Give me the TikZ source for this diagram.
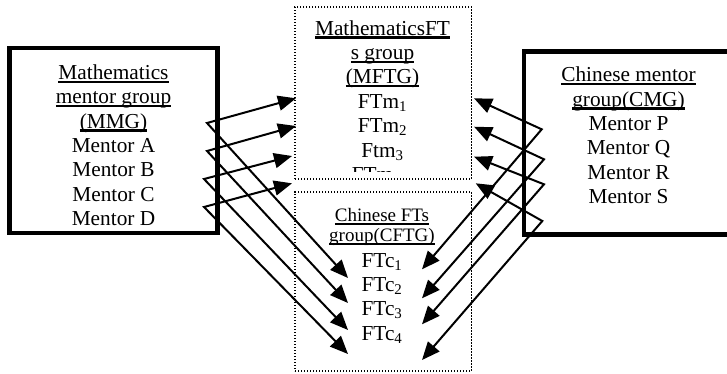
\documentclass[tikz,border=0pt]{standalone}
\usepackage{fontspec}
\setmainfont{Liberation Serif}
\usetikzlibrary{arrows.meta}
\usetikzlibrary{positioning}

\newcommand\grpline[1]{\setbox0\hbox{#1}\rlap{\rule[-3.6pt]{\wd0}{2.3pt}}\box0}

\begin{document}
\begin{tikzpicture}[
          x=1pt, y=-1pt,
          node distance=24.4pt,
          on grid,
          mentorbox/.style={
            draw,
            line width=4.5pt},
          ftbox/.style={
            draw,
            line width=1.2pt,
            dash pattern=on 1.2pt off 1.8pt},
          txt/.style={
            inner sep=0pt,
            text height=15pt,
            text depth=5pt,
            font=\fontsize{21.3}{25}\selectfont},
          smalltxt/.style={
            txt,
            font=\fontsize{19}{22}\selectfont},
          link/.style={
            line width=2pt,
            {Triangle[length=18pt,width=15pt]}-{Triangle[length=18pt,width=15pt]}},
        ]
          \useasboundingbox (0,0) rectangle (727,373);
          \clip (0,0) rectangle (727,373);

          % group boxes
          \node[mentorbox, minimum width=208pt, minimum height=185pt] (MMG) at (113.5,140.5) {};
          \node[mentorbox, minimum width=209pt, minimum height=183.4pt] (CMG) at (628.5,143) {};
          \node[ftbox, minimum width=176.5pt, minimum height=172pt] (MFTG) at (383.25,93) {};
          \node[ftbox, minimum width=176.5pt, minimum height=179pt] (CFTG) at (383.25,281.5) {};

          % mathematics mentors
          \node[txt] (mmg1) at (113.5,74.3) {\grpline{Mathematics}};
          \node[txt] (mmg2) [below=of mmg1] {\grpline{mentor group}};
          \node[txt] (mmg3) [below=of mmg2] {\grpline{(MMG)}};
          \node[txt] (mA) [below=of mmg3] {Mentor A};
          \node[txt] (mB) [below=of mA] {Mentor B};
          \node[txt] (mC) [below=of mB] {Mentor C};
          \node[txt] (mD) [below=of mC] {Mentor D};

          % chinese mentors
          \node[txt] (cmg1) at (628.5,76.7) {\grpline{Chinese mentor}};
          \node[txt] (cmg2) [below=of cmg1] {\grpline{group(CMG)}};
          \node[txt] (mP) [below=of cmg2] {Mentor P};
          \node[txt] (mQ) [below=of mP] {Mentor Q};
          \node[txt] (mR) [below=of mQ] {Mentor R};
          \node[txt] (mS) [below=of mR] {Mentor S};

          % mathematics FTs
          \node[txt] (mftg1) at (382.5,30) {\grpline{MathematicsFT}};
          \node[txt] (mftg2) [below=of mftg1] {\grpline{s group}};
          \node[txt] (mftg3) [below=of mftg2] {\grpline{(MFTG)}};
          \node[txt] (m1) [below=of mftg3] {FTm\textsubscript{1}};
          \node[txt] (m2) [below=of m1] {FTm\textsubscript{2}};
          \node[txt] (m3) [below=of m2] {Ftm\textsubscript{3}};
          \begin{scope}
            \clip (295,7) rectangle (471.5,171);
            \node[txt, xshift=-6pt] (m4) [below=of m3] {FTm\textsubscript{4}};
          \end{scope}

          % chinese FTs
          \node[smalltxt] (cftg1) at (382,216.7) {\grpline{Chinese FTs}};
          \node[smalltxt] (cftg2) [below=20pt of cftg1] {\grpline{group(CFTG)}};
          \node[txt] (c1) [below=25.3pt of cftg2] {FTc\textsubscript{1}};
          \node[txt] (c2) [below=of c1] {FTc\textsubscript{2}};
          \node[txt] (c3) [below=of c2] {FTc\textsubscript{3}};
          \node[txt] (c4) [below=of c3] {FTc\textsubscript{4}};

          % arrow corners and tips
          \coordinate (vL1) at (207,123);
          \coordinate (vL2) at (207,151);
          \coordinate (vL3) at (204,179);
          \coordinate (vL4) at (204,207);
          \coordinate (uL1) at (296,98.3);
          \coordinate (uL2) at (296,126);
          \coordinate (uL3) at (292,156);
          \coordinate (uL4) at (292,183.3);
          \coordinate (dL1) at (348,278);
          \coordinate (dL2) at (348,303);
          \coordinate (dL3) at (348,330);
          \coordinate (dL4) at (348,354);
          \coordinate (vR1) at (541.7,129.3);
          \coordinate (vR2) at (544,159.3);
          \coordinate (vR3) at (544,184.3);
          \coordinate (vR4) at (542.3,221);
          \coordinate (uR1) at (474,98.3);
          \coordinate (uR2) at (474,126.7);
          \coordinate (uR3) at (474,156.7);
          \coordinate (uR4) at (475.7,183.3);
          \coordinate (dR1) at (422,269.3);
          \coordinate (dR2) at (422,298.3);
          \coordinate (dR3) at (422,324.3);
          \coordinate (dR4) at (422,360);

          \foreach \i in {1,...,4} {
            \draw[link] (uL\i) -- (vL\i) -- (dL\i);
            \draw[link] (uR\i) -- (vR\i) -- (dR\i);
          }
        \end{tikzpicture}
\end{document}
